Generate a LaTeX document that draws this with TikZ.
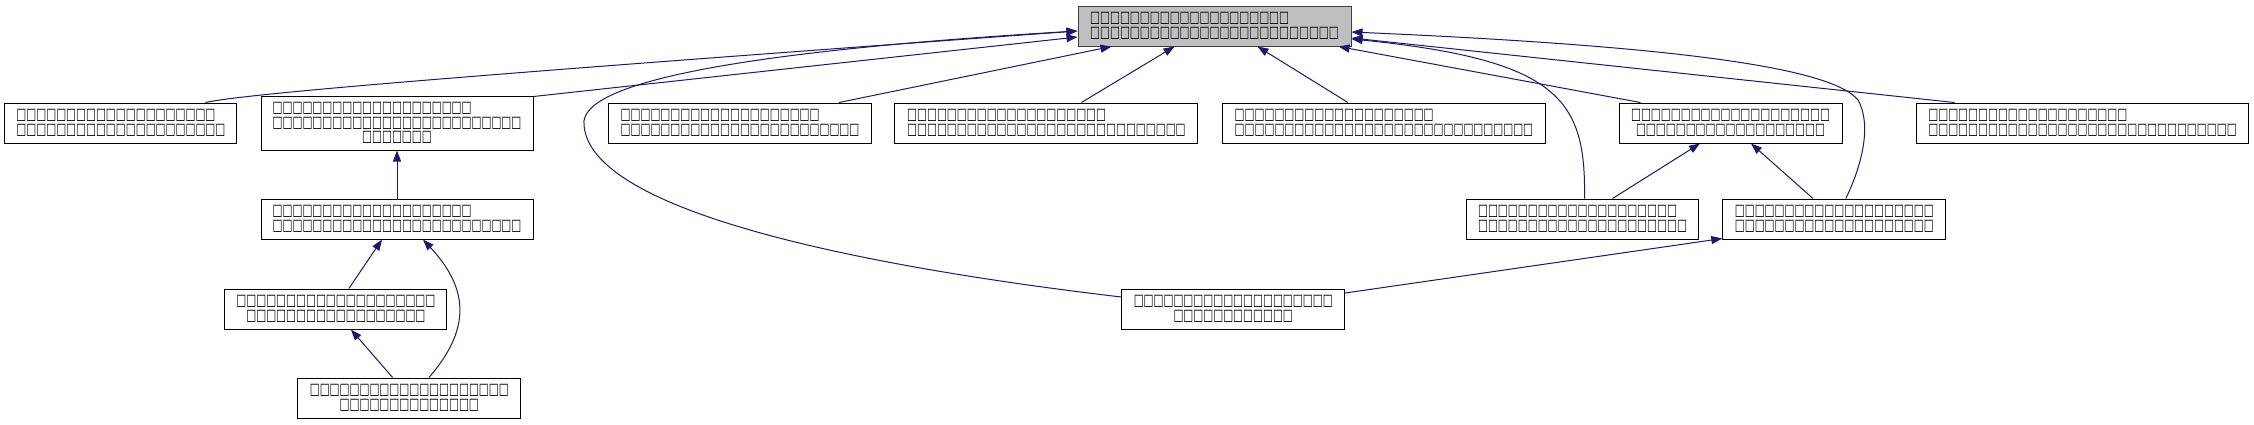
\documentclass[tikz,border=0pt]{standalone}
\usepackage{fontspec}
\usetikzlibrary{arrows.meta}
\newfontfamily\bxfont[FakeStretch=0.662]{DejaVu Sans}
\definecolor{edgeblue}{RGB}{25,25,112}
\definecolor{topfill}{RGB}{191,191,191}
\definecolor{topline}{RGB}{64,64,64}
\begin{document}
\begin{tikzpicture}[x=1pt,y=-1pt,
  cls/.style={draw=black, line width=1pt, inner sep=0pt, minimum height=40pt,
    font=\bxfont\fontsize{15.9pt}{14.5pt}\selectfont},
  lft/.style={cls, align=left},
  ctr/.style={cls, align=center},
  edge/.style={draw=edgeblue, line width=1pt, -{Triangle[length=11pt,width=8pt]}},
]
\useasboundingbox (0,0) rectangle (2254,424);
% nodes
\node[lft, minimum width=273pt, fill=topfill, draw=topline] (T) at (1214.5,26)
  {□□□□□{}□□□□□{}□□□□□{}□□□□□\\□□□□□{}□□□□□{}□□□□□{}□□□□□{}□□□□□};
\node[lft, minimum width=232pt] (A) at (120.9,123)
  {□□□□□{}□□□□□{}□□□□□{}□□□□□\\□□□□□{}□□□□□{}□□□□□{}□□□□□{}□};
\node[lft, minimum width=272pt, minimum height=54pt] (B) at (397,123)
  {□□□□□{}□□□□□{}□□□□□{}□□□□□\\□□□□□{}□□□□□{}□□□□□{}□□□□□{}□□□□□\\\hphantom{□□□□□□□□□}□□□□□{}□□};
\node[lft, minimum width=263pt] (C) at (740,123)
  {□□□□□{}□□□□□{}□□□□□{}□□□□□\\□□□□□{}□□□□□{}□□□□□{}□□□□□{}□□□□};
\node[lft, minimum width=303pt] (D) at (1046.4,123)
  {□□□□□{}□□□□□{}□□□□□{}□□□□□\\□□□□□{}□□□□□{}□□□□□{}□□□□□{}□□□□□{}□□□};
\node[lft, minimum width=323pt] (E) at (1383.9,123)
  {□□□□□{}□□□□□{}□□□□□{}□□□□□\\□□□□□{}□□□□□{}□□□□□{}□□□□□{}□□□□□{}□□□□□};
\node[ctr, minimum width=223pt] (F) at (1730.5,123)
  {□□□□□{}□□□□□{}□□□□□{}□□□□□\\□□□□□{}□□□□□{}□□□□□{}□□□□};
\node[lft, minimum width=332pt] (G) at (2082.5,123)
  {□□□□□{}□□□□□{}□□□□□{}□□□□□\\□□□□□{}□□□□□{}□□□□□{}□□□□□{}□□□□□{}□□□□□{}□};
\node[lft, minimum width=272pt] (H) at (397,219)
  {□□□□□{}□□□□□{}□□□□□{}□□□□□\\□□□□□{}□□□□□{}□□□□□{}□□□□□{}□□□□□};
\node[lft, minimum width=232pt] (I) at (1582.5,219)
  {□□□□□{}□□□□□{}□□□□□{}□□□□□\\□□□□□{}□□□□□{}□□□□□{}□□□□□{}□};
\node[ctr, minimum width=223pt] (J) at (1834.3,219)
  {□□□□□{}□□□□□{}□□□□□{}□□□□□\\□□□□□{}□□□□□{}□□□□□{}□□□□□};
\node[ctr, minimum width=222pt] (K) at (335.9,309)
  {□□□□□{}□□□□□{}□□□□□{}□□□□□\\□□□□□{}□□□□□{}□□□□□{}□□□};
\node[ctr, minimum width=223pt] (L) at (1233.2,309)
  {□□□□□{}□□□□□{}□□□□□{}□□□□□\\□□□□□{}□□□□□{}□□};
\node[ctr, minimum width=223pt] (M) at (409.3,398)
  {□□□□□{}□□□□□{}□□□□□{}□□□□□\\□□□□□{}□□□□□{}□□□□};
% edges
\draw[edge] ([xshift=-32pt]A.north east) .. controls (240,95) and (400,80) .. ([yshift=-5pt]T.west);
\draw[edge] ([yshift=-1pt]B.north east) -- ([yshift=-11pt]T.west);
\draw[edge] ([xshift=99pt]C.north) -- ([xshift=34pt]T.south west);
\draw[edge] ([xshift=35pt]D.north) -- ([xshift=97pt]T.south west);
\draw[edge] ([xshift=-36pt]E.north) -- ([xshift=180pt]T.south west);
\draw[edge] ([xshift=-90pt]F.north) -- ([xshift=261pt]T.south west);
\draw[edge] ([xshift=-128pt]G.north) -- ([yshift=-12pt]T.east);
\draw[edge] ([xshift=2pt]I.north) .. controls (1586,100) and (1560,60) .. ([yshift=-13pt]T.east);
\draw[edge] ([xshift=11.5pt]J.north) .. controls (1862,165) and (1872,125) .. (1858,100)
  .. controls (1830,65) and (1650,45) .. ([yshift=-6pt]T.east);
\draw[edge] ([yshift=12pt]L.west) .. controls (850,265) and (590,210) .. (584,125)
  .. controls (578,80) and (760,50) .. ([yshift=-5pt]T.west);
\draw[edge] (H.north) -- (B.south);
\draw[edge] ([xshift=13pt]K.north) -- ([xshift=-15pt]H.south);
\draw[edge] ([xshift=-16.7pt]M.north) -- ([xshift=15pt]K.south);
\draw[edge] ([xshift=19.7pt]M.north) .. controls (470,330) and (470,290) .. ([xshift=26pt]H.south);
\draw[edge] ([xshift=30pt]I.north) -- ([xshift=-30.5pt]F.south);
\draw[edge] ([xshift=-21.3pt]J.north) -- ([xshift=20.5pt]F.south);
\draw[edge] ([yshift=16pt]L.east) -- ([yshift=1pt]J.south west);
\end{tikzpicture}
\end{document}
